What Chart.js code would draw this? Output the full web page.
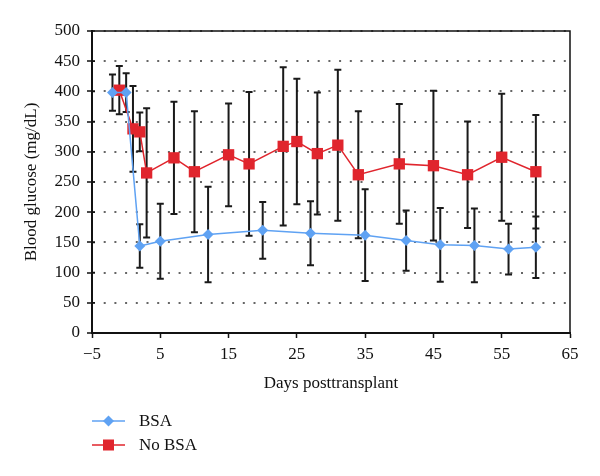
<!DOCTYPE html>
<html>
<head>
<meta charset="utf-8">
<script src="https://cdn.jsdelivr.net/npm/chart.js@4.4.0/dist/chart.umd.min.js"></script>
<style>
  html, body { margin: 0; padding: 0; background: #fff; }
  #wrap { position: relative; width: 600px; height: 476px; }
  #legend { position: absolute; left: 92px; top: 409px; font-family: "Liberation Serif", serif; font-size: 17px; color: #111; }
  .item { display: flex; align-items: center; height: 24px; }
  .item svg { margin-right: 14px; }
</style>
</head>
<body>
<div id="wrap">
  <canvas id="glucoseChart" width="600" height="476"></canvas>
  <div id="legend">
    <div class="item">
      <svg width="33" height="14"><line x1="0" y1="7" x2="33" y2="7" stroke="#5fa2f3" stroke-width="1.5"/><polygon points="16.5,1.5 22,7 16.5,12.5 11,7" fill="#5fa2f3"/></svg>BSA
    </div>
    <div class="item">
      <svg width="33" height="14"><line x1="0" y1="7" x2="33" y2="7" stroke="#e0252d" stroke-width="1.5"/><rect x="11" y="1.5" width="11" height="11" fill="#e0252d"/></svg>No BSA
    </div>
  </div>
</div>
<script>
// values (mean and SD, mg/dL)
const bsaDays = [-2, 0, 2, 5, 12, 20, 27, 35, 41, 46, 51, 56, 60];
const bsaMean = [398, 398, 144, 152, 163, 170, 165, 162, 153, 146, 145, 139, 142];
const bsaSd   = [30, 32, 36, 62, 79, 47, 53, 76, 50, 61, 61, 42, 51];

const noBsaDays = [-1, 1, 2, 3, 7, 10, 15, 18, 23, 25, 28, 31, 34, 40, 45, 50, 55, 60];
const noBsaMean = [402, 338, 333, 265, 290, 267, 295, 280, 309, 317, 297, 311, 262, 280, 277, 262, 291, 267];
const noBsaSd   = [40, 71, 32, 107, 93, 100, 85, 119, 131, 104, 101, 125, 105, 99, 124, 88, 105, 94];

const xTicks = [-5, 5, 15, 25, 35, 45, 55, 65];
const yTicks = [0, 50, 100, 150, 200, 250, 300, 350, 400, 450, 500];

const BLUE = '#5fa2f3';
const RED = '#e0252d';
const FONT = { family: '"Liberation Serif", serif', size: 17 };

const toPoints = (xs, ys) => xs.map((x, i) => ({ x: x, y: ys[i] }));

// error bars, drawn under the markers
const errorBars = {
    id: 'errorBars',
    beforeDatasetsDraw(chart) {
        const ctx = chart.ctx;
        const yScale = chart.scales.y;
        ctx.save();
        ctx.strokeStyle = '#1a1a1a';
        ctx.lineWidth = 2;
        chart.data.datasets.forEach((ds, di) => {
            const meta = chart.getDatasetMeta(di);
            meta.data.forEach((pt, i) => {
                const sd = ds.sd[i];
                const yTop = yScale.getPixelForValue(ds.data[i].y + sd);
                const yBot = yScale.getPixelForValue(ds.data[i].y - sd);
                const x = pt.x;
                ctx.beginPath();
                ctx.moveTo(x, yTop); ctx.lineTo(x, yBot);
                ctx.moveTo(x - 3.5, yTop); ctx.lineTo(x + 3.5, yTop);
                ctx.moveTo(x - 3.5, yBot); ctx.lineTo(x + 3.5, yBot);
                ctx.stroke();
            });
        });
        ctx.restore();
    }
};

// top and right frame of the plot box, plus the inner half of the y ticks
const frame = {
    id: 'frame',
    afterDraw(chart) {
        const a = chart.chartArea;
        const ctx = chart.ctx;
        ctx.save();
        ctx.strokeStyle = '#111';
        ctx.lineWidth = 1.5;
        ctx.beginPath();
        ctx.moveTo(a.left, a.top); ctx.lineTo(a.right, a.top); ctx.lineTo(a.right, a.bottom);
        chart.scales.y.ticks.forEach(t => {
            const y = chart.scales.y.getPixelForValue(t.value);
            ctx.moveTo(a.left, y); ctx.lineTo(a.left + 3, y);
        });
        ctx.stroke();
        ctx.restore();
    }
};

const ctx = document.getElementById('glucoseChart').getContext('2d');
const chart = new Chart(ctx, {
    type: 'line',
    data: {
        datasets: [
            {
                label: 'BSA',
                data: toPoints(bsaDays, bsaMean),
                sd: bsaSd,
                borderColor: BLUE,
                backgroundColor: BLUE,
                borderWidth: 1.5,
                pointStyle: 'rectRot',
                pointRadius: 5.5,
                pointBorderWidth: 0,
                tension: 0
            },
            {
                label: 'No BSA',
                data: toPoints(noBsaDays, noBsaMean),
                sd: noBsaSd,
                borderColor: RED,
                backgroundColor: RED,
                borderWidth: 1.5,
                pointStyle: 'rect',
                pointRadius: 8,
                pointBorderWidth: 0,
                tension: 0
            }
        ]
    },
    options: {
        responsive: false,
        animation: false,
        devicePixelRatio: 1,
        layout: { padding: { top: 31, right: 30, bottom: 0, left: 0 } },
        plugins: { legend: { display: false }, tooltip: { enabled: false } },
        scales: {
            x: {
                type: 'linear',
                min: -5,
                max: 65,
                afterBuildTicks: scale => { scale.ticks = xTicks.map(v => ({ value: v })); },
                afterFit: scale => { scale.height = 143; },
                ticks: {
                    font: FONT,
                    color: '#111',
                    padding: 6,
                    maxRotation: 0,
                    callback: v => String(v).replace('-', '\u2212')
                },
                grid: { drawOnChartArea: false, tickLength: 5, tickColor: '#111', tickWidth: 1.5 },
                border: { color: '#111', width: 2 },
                title: {
                    display: true,
                    text: 'Days posttransplant',
                    font: FONT,
                    color: '#111',
                    padding: { top: 0, bottom: 82 }
                }
            },
            y: {
                min: 0,
                max: 500,
                afterBuildTicks: scale => { scale.ticks = yTicks.map(v => ({ value: v })); },
                afterFit: scale => { scale.width = 92; },
                ticks: { font: FONT, color: '#111', padding: 7 },
                grid: {
                    color: '#666',
                    lineWidth: 2,
                    tickLength: 5,
                    tickColor: '#111',
                    tickWidth: 1.5
                },
                border: { color: '#111', width: 2, dash: [2, 8.7] },
                title: {
                    display: true,
                    text: 'Blood glucose (mg/dL)',
                    font: FONT,
                    color: '#111',
                    padding: { top: 21, bottom: 0 }
                }
            }
        }
    },
    plugins: [errorBars, frame]
});
</script>
</body>
</html>
